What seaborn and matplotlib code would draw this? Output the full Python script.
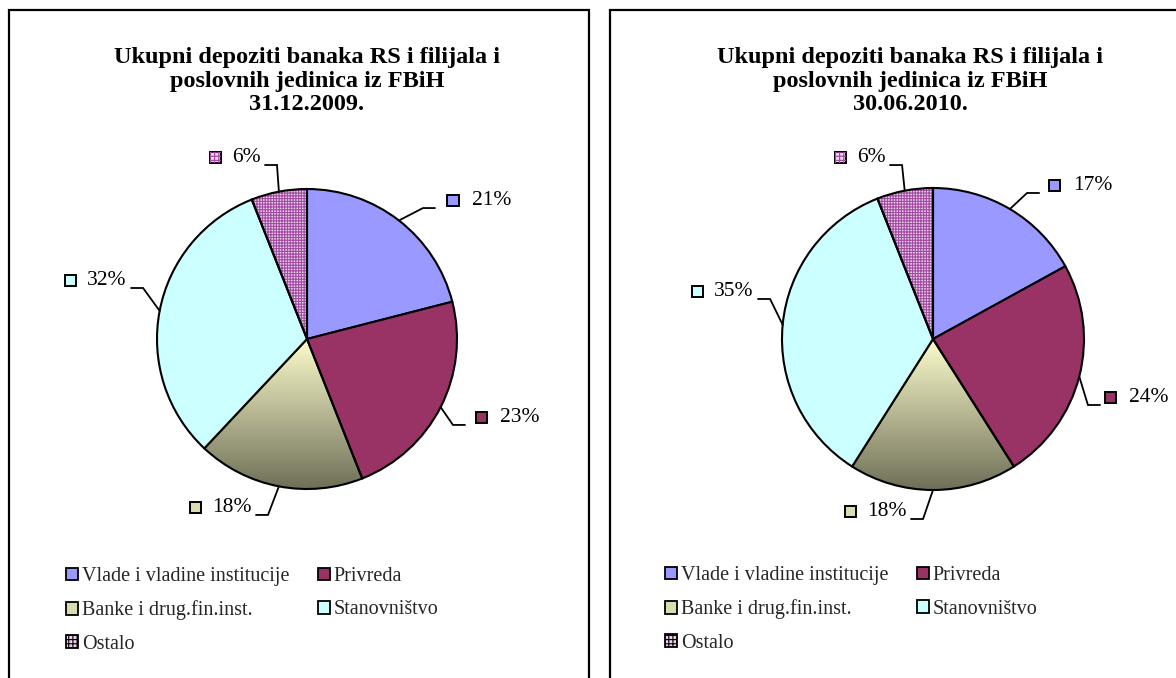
import numpy as np
import matplotlib
matplotlib.use("Agg")
import matplotlib.pyplot as plt
import seaborn as sns
from matplotlib.patches import Rectangle, Patch, Wedge
from matplotlib.colors import LinearSegmentedColormap

# ---------------- data ----------------
categories = ["Vlade i vladine institucije", "Privreda", "Banke i drug.fin.inst.",
              "Stanovništvo", "Ostalo"]
values_2009 = [21, 23, 18, 32, 6]
values_2010 = [17, 24, 18, 35, 6]
title_2009 = "Ukupni depoziti banaka RS i filijala i\nposlovnih jedinica iz FBiH\n31.12.2009."
title_2010 = "Ukupni depoziti banaka RS i filijala i\nposlovnih jedinica iz FBiH\n30.06.2010."

# ---------------- style ----------------
colors = ["#9999FF", "#993366", "#E2E2B8", "#CCFFFF", "#EBCFEB"]
grad_top, grad_bottom = "#FCFCCC", "#6F6F58"
hatch_color = "#A04CA0"

sns.set_theme(style="white")
plt.rcParams["font.family"] = ["Liberation Serif", "DejaVu Serif"]
plt.rcParams["hatch.linewidth"] = 0.8

W, H = 1176, 678
fig = plt.figure(figsize=(W / 100, H / 100), dpi=100)
fig.patch.set_facecolor("white")

# layout (pixels / pie units); marker offsets from line end, per label
panels = [
    dict(values=values_2009, title=title_2009, cx=307, cy=339, r=150, title_x=307,
         box=(9, 10, 580), legend_xy=(66, 567),
         elbows=[(0.773, 0.873), (0.973, -0.573), (-0.26, -1.173), (-1.093, 0.34), (-0.2, 1.16)],
         moff=[0.12, 0.11, 0.11, 0.11, 0.11]),
    dict(values=values_2010, title=title_2010, cx=933, cy=339, r=151, title_x=910,
         box=(610, 10, 640), legend_xy=(665, 566),
         elbows=[(0.623, 0.967), (1.026, -0.437), (-0.066, -1.192), (-1.079, 0.265), (-0.205, 1.152)],
         moff=[0.10, 0.07, 0.11, 0.11, 0.11]),
]

seg = 0.08
fig.canvas.draw()
renderer = fig.canvas.get_renderer()

for p in panels:
    cx, cy, r = p["cx"], p["cy"], p["r"]
    half = 2.0
    ax = fig.add_axes([(cx - half * r) / W, (H - cy - half * r) / H,
                       2 * half * r / W, 2 * half * r / H])

    wedges, _ = ax.pie(p["values"], colors=colors, startangle=90, counterclock=False,
                       radius=1.0, wedgeprops=dict(edgecolor="black", linewidth=1.5))
    for w in wedges:
        w.set_clip_on(False)

    # gradient for "Banke" wedge
    wb = wedges[2]
    ext = wb.get_path().get_extents()
    cmap = LinearSegmentedColormap.from_list("g", [grad_top, grad_bottom])
    grad = np.linspace(0, 1, 256).reshape(-1, 1)
    im = ax.imshow(grad, cmap=cmap, aspect="auto", origin="upper",
                   extent=(ext.x0, ext.x1, ext.y0, ext.y1), zorder=wb.get_zorder() - 0.1)
    im.set_clip_path(wb)
    wb.set_facecolor("none")

    # hatch for "Ostalo" wedge
    wo = wedges[4]
    bg = Wedge((0, 0), 1.0, wo.theta1, wo.theta2, facecolor=colors[4],
               edgecolor="none", zorder=wo.get_zorder() - 0.2)
    ax.add_patch(bg)
    hp = Wedge((0, 0), 1.0, wo.theta1, wo.theta2, facecolor="none",
               edgecolor=hatch_color, hatch="++++++", linewidth=0,
               zorder=wo.get_zorder() - 0.1)
    ax.add_patch(hp)
    wo.set_facecolor("none")

    ax.set_xlim(-half, half)
    ax.set_ylim(-half, half)
    ax.set_aspect("equal")
    ax.axis("off")

    # labels with leader lines
    ms = 0.075
    for i, (w, v, (ex, ey)) in enumerate(zip(wedges, p["values"], p["elbows"])):
        mid = np.deg2rad((w.theta1 + w.theta2) / 2)
        px0, py0 = np.cos(mid), np.sin(mid)
        right = ex > 0.3
        endx = ex + seg if right else ex - seg
        ax.plot([px0, ex, endx], [py0, ey, ey], color="black", lw=1.3,
                solid_joinstyle="miter", clip_on=False)
        ty = ey + 0.05
        if right:
            mx = endx + p["moff"][i]
            ax.text(mx + 0.125, ty, f"{v}%", ha="left", va="center", fontsize=15.5,
                    color="black")
        else:
            t = ax.text(endx - 0.03, ty, f"{v}%", ha="right", va="center", fontsize=15.5,
                        color="black")
            bb = t.get_window_extent(renderer=renderer)
            x0 = ax.transData.inverted().transform((bb.x0, bb.y0))[0]
            mx = x0 - p["moff"][i]
        face = colors[i] if i != 2 else "#DCDCB2"
        sq = Rectangle((mx - ms / 2, ty - ms / 2), ms, ms, facecolor=face, edgecolor="black",
                       lw=1.4, clip_on=False, zorder=5)
        ax.add_patch(sq)
        if i == 4:
            ax.add_patch(Rectangle((mx - ms / 2, ty - ms / 2), ms, ms, facecolor="none",
                                   edgecolor=hatch_color, hatch="++++", lw=0, clip_on=False,
                                   zorder=5.1))

    # title
    fig.text(p["title_x"] / W, 1 - 81 / H, p["title"], ha="center", va="center",
             fontsize=17.5, fontweight="bold", linespacing=1.18, color="black")

    # box
    bx, by, bw = p["box"]
    fig.add_artist(Rectangle((bx / W, 1 - (H + 20) / H), bw / W, (H + 20 - by) / H,
                             transform=fig.transFigure, facecolor="none",
                             edgecolor="black", lw=1.6, clip_on=False))

    # legend
    handles = []
    for i, c in enumerate(categories):
        face = colors[i] if i != 2 else "#DCDCB2"
        handles.append(Patch(facecolor=face, edgecolor="black", linewidth=1.3,
                             hatch="++++" if i == 4 else None, label=c))
    order = [0, 2, 4, 1, 3]
    lx, ly = p["legend_xy"]
    fig.legend([handles[k] for k in order], [categories[k] for k in order],
               loc="upper left", bbox_to_anchor=(lx / W, 1 - ly / H),
               bbox_transform=fig.transFigure, ncol=2, frameon=False, fontsize=14.5,
               handlelength=0.6, handleheight=0.6, handletextpad=0.2,
               columnspacing=1.4, labelspacing=0.72, borderpad=0, borderaxespad=0)

fig.savefig("out.png", dpi=100, facecolor="white")
